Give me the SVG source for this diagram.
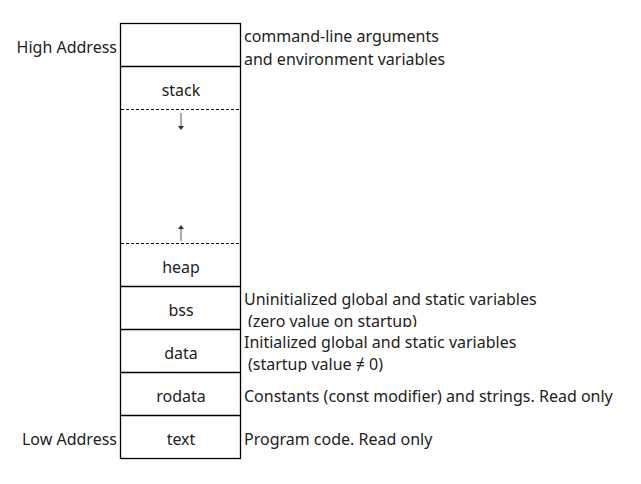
<svg xmlns="http://www.w3.org/2000/svg" width="641" height="484" viewBox="0 0 641 484">
<style>
text{font-family:"Noto Sans","Liberation Sans",Arial,sans-serif;font-size:16px;fill:#222}
.c{text-anchor:middle}
.e{text-anchor:end}
.box{fill:#fff;stroke:#000;stroke-width:1.3}
.dot{stroke:#000;stroke-width:1.2;stroke-dasharray:3 2;fill:none}
.sh{stroke:#aaa;stroke-width:2}
.hd{fill:#333}
</style>
<defs>
<clipPath id="c1"><rect x="241" y="286" width="400" height="41"/></clipPath>
<clipPath id="c2"><rect x="241" y="329" width="400" height="43"/></clipPath>
</defs>
<rect width="641" height="484" fill="#fff"/>
<g id="memory">
<rect class="box" x="120.5" y="23.5" width="120" height="435"/>
<line x1="120.5" y1="66.5" x2="240.5" y2="66.5" stroke="#000" stroke-width="1.3"/>
<line class="dot" x1="121" y1="109.5" x2="240" y2="109.5"/>
<line class="dot" x1="121" y1="243.5" x2="240" y2="243.5"/>
<line x1="120.5" y1="286.5" x2="240.5" y2="286.5" stroke="#000" stroke-width="1.3"/>
<line x1="120.5" y1="329.5" x2="240.5" y2="329.5" stroke="#000" stroke-width="1.3"/>
<line x1="120.5" y1="372.5" x2="240.5" y2="372.5" stroke="#000" stroke-width="1.3"/>
<line x1="120.5" y1="415.5" x2="240.5" y2="415.5" stroke="#000" stroke-width="1.3"/>
</g>
<g id="cmdline"><text x="244" y="42">command-line arguments</text><text x="244" y="65">and environment variables</text></g>
<g id="stack"><text class="c" x="181" y="96">stack</text></g>
<g id="connectors">
<line class="sh" x1="181" y1="113" x2="181" y2="127"/>
<polygon class="hd" points="178,126 184,126 181,130"/>
<line class="sh" x1="181" y1="228" x2="181" y2="241"/>
<polygon class="hd" points="178,229 184,229 181,225"/>
</g>
<g id="heap"><text class="c" x="181" y="273">heap</text></g>
<g id="bss"><text class="c" x="181" y="316">bss</text>
<text x="244" y="305">Uninitialized global and static variables</text>
<text x="248" y="327" clip-path="url(#c1)">(zero value on startup)</text></g>
<g id="data"><text class="c" x="181" y="359">data</text>
<text x="244" y="348">Initialized global and static variables</text>
<text x="248" y="370" clip-path="url(#c2)">(startup value ≠ 0)</text></g>
<g id="rodata"><text class="c" x="181" y="402">rodata</text>
<text x="244" y="402">Constants (const modifier) and strings. Read only</text></g>
<g id="text"><text class="c" x="181" y="445">text</text>
<text x="244" y="445">Program code. Read only</text></g>
<g id="labels"><text class="e" x="117" y="53">High Address</text><text class="e" x="117" y="445">Low Address</text></g>
</svg>
